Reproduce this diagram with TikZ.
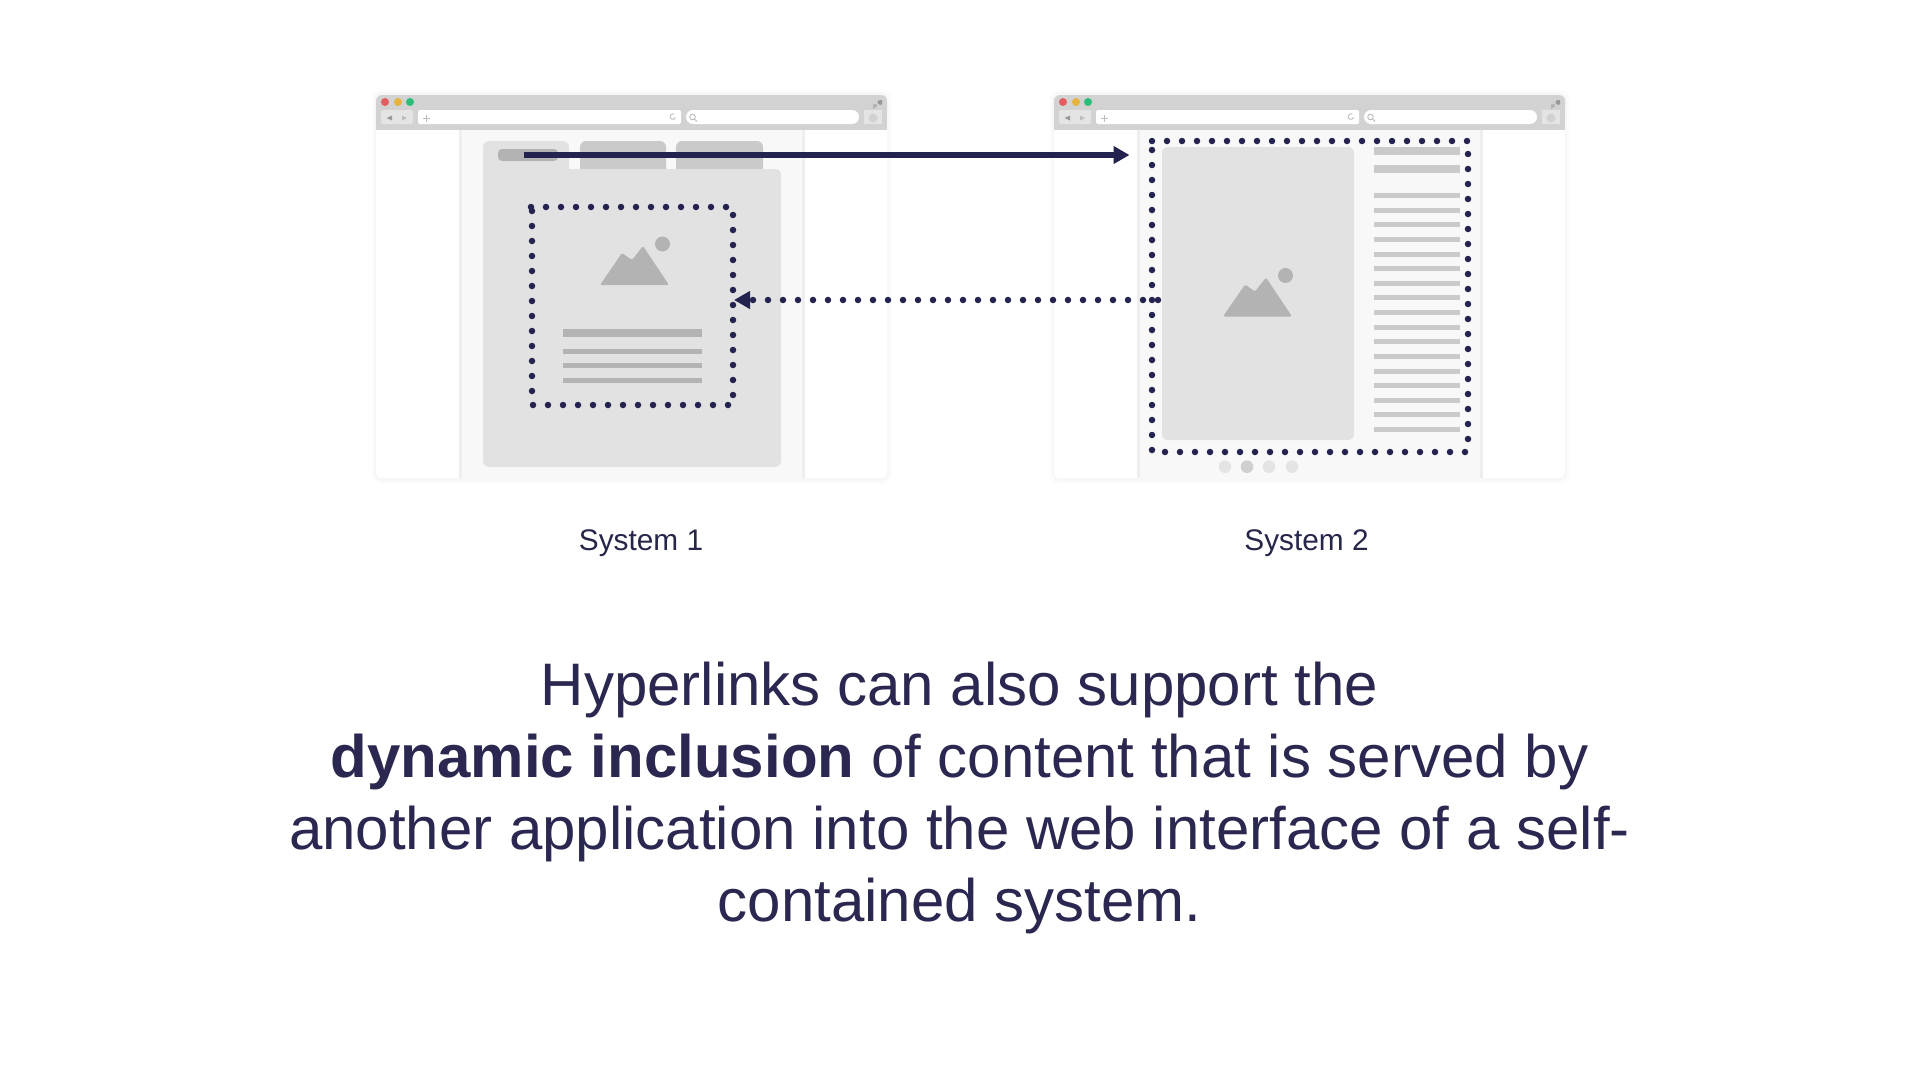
\documentclass[tikz,border=0pt]{standalone}
\usepackage{fontspec}
\setmainfont{Liberation Sans}
\usetikzlibrary{arrows.meta}
\definecolor{ink}{HTML}{2A2850}
\definecolor{capink}{HTML}{26264A}
\definecolor{arrowink}{HTML}{24224E}
\definecolor{haloA}{HTML}{FCFCFC}
\definecolor{haloB}{HTML}{F7F7F7}
\definecolor{chrome}{HTML}{D2D2D2}
\definecolor{btn}{HTML}{E4E4E4}
\definecolor{pagebg}{HTML}{F8F8F8}
\definecolor{divider}{HTML}{EEEEEE}
\definecolor{panel}{HTML}{E2E2E2}
\definecolor{tabdark}{HTML}{CACACA}
\definecolor{midgrey}{HTML}{B3B3B3}
\definecolor{iconline}{HTML}{BDBDBD}
\tikzset{
  dotline/.style={draw=arrowink,line width=6.5pt,line cap=round,dash pattern=on 0pt off 15pt},
  solidlink/.style={draw=arrowink,line width=6pt,-{Triangle[length=16pt,width=17pt]}},
  dotlink/.style={draw=arrowink,line width=6.5pt,line cap=round,dash pattern=on 0pt off 15pt,-{Triangle[length=16pt,width=17pt,line cap=butt]}},
  caption/.style={font=\fontsize{29.8}{34}\selectfont,text=capink,inner sep=0pt,anchor=center},
  thin icon/.style={draw=iconline,line width=0.9pt}
}
\newcommand{\browserwin}[1]{%
\begin{scope}[xshift=#1pt]
  \fill[haloA,rounded corners=9pt] (372,90) rectangle (892,484);
  \fill[haloB,rounded corners=8pt] (374,92) rectangle (889,481);
  \fill[white,rounded corners=6pt] (376,110) rectangle (887,478);
  \fill[chrome,rounded corners=6pt] (376,95) rectangle (887,120);
  \fill[chrome] (376,110) rectangle (887,130);
  \fill[pagebg] (459,130) rectangle (805,478);
  \fill[divider] (459,130) rectangle (462,478);
  \fill[divider] (802,130) rectangle (805,478);
  \fill[color={rgb,255:red,226;green,92;blue,96}] (385,102) circle[radius=4];
  \fill[color={rgb,255:red,228;green,180;blue,60}] (398,102) circle[radius=4];
  \fill[color={rgb,255:red,44;green,190;blue,120}] (410,102) circle[radius=4];
  \fill[btn,rounded corners=2pt] (381,110) rectangle (413,124);
  \fill[iconline!75!black!90] (386.5,118) -- (392,115.5) -- (392,120.5) -- cycle;
  \fill[iconline] (407,118) -- (402,115.5) -- (402,120.5) -- cycle;
  \fill[white,rounded corners=1.5pt] (418,110) rectangle (681,124);
  \draw[thin icon] (423,118) -- (430,118) (426.5,114.5) -- (426.5,121.5);
  \draw[thin icon] (675.5,117.5) arc[start angle=20,end angle=300,radius=2.8];
  \fill[white,rounded corners=7pt] (686,110) rectangle (859,124);
  \draw[thin icon] (692.5,117) circle[radius=2.8] (694.5,119) -- (697,121.5);
  \fill[btn] (864,110) rectangle (882,124);
  \fill[color=chrome] (873,118) circle[radius=4.5];
  \fill[midgrey] (873,109) -- (873,104.5) -- (876,104) -- (877.5,106) -- cycle;
  \fill[color=midgrey!85!black] (882,100) -- (882,104) -- (880,105) -- (877.5,103) -- (878,100.5) -- cycle;
\end{scope}}
\newcommand{\mountain}[2]{%
\begin{scope}[xshift=#1pt,yshift=-#2pt]
  \fill[midgrey,rounded corners=1.5pt] (600,285) -- (622,253) -- (632,260) -- (643,246) -- (669,285) -- cycle;
  \fill[midgrey] (662.5,244) circle[radius=7.5];
\end{scope}}
\begin{document}
\begin{tikzpicture}[x=1pt,y=-1pt]
\useasboundingbox (0,0) rectangle (1920,1080);
\fill[white] (0,0) rectangle (1920,1080);
\browserwin{0}
\browserwin{678}
% System 1 content
\fill[panel,rounded corners=6pt] (483,141) rectangle (569,180);
\fill[tabdark,rounded corners=6pt] (580,141) rectangle (666,180);
\fill[tabdark,rounded corners=6pt] (676,141) rectangle (763,180);
\fill[panel,rounded corners=6pt] (483,169) rectangle (781,467);
\fill[panel] (483,160) rectangle (569,175);
\fill[midgrey,rounded corners=4pt] (498,149) rectangle (558,161);
\mountain{0}{0}
\fill[midgrey] (563,329) rectangle (702,337);
\foreach \ly in {349,363,378} \fill[midgrey] (563,\ly) rectangle (702,\ly+5);
% System 2 content
\fill[panel,rounded corners=6pt] (1162,147) rectangle (1354,440);
\mountain{623}{31.5}
\fill[tabdark] (1374,147) rectangle (1460,155);
\fill[tabdark] (1374,165) rectangle (1460,173);
\foreach \k in {0,...,16} \fill[tabdark] (1374,193+\k*14.63) rectangle (1460,198+\k*14.63);
\fill[btn] (1225,466.7) circle[radius=6.3];
\fill[tabdark!90!white] (1247,466.7) circle[radius=6.3];
\fill[btn] (1269,466.7) circle[radius=6.3];
\fill[btn] (1292,466.7) circle[radius=6.3];
% dotted frames
\coordinate (aTL) at (531,207); \coordinate (aTR) at (728,207);
\coordinate (aRT) at (733,215); \coordinate (aRB) at (733,397);
\coordinate (aBR) at (728,405); \coordinate (aBL) at (532,405);
\coordinate (aLB) at (532,391); \coordinate (aLT) at (532,210);
\draw[dotline] (aTL) -- (aTR);
\draw[dotline] (aRT) -- (aRB);
\draw[dotline] (aBR) -- (aBL);
\draw[dotline] (aLB) -- (aLT);
\coordinate (bTL) at (1152,141); \coordinate (bTR) at (1469,141);
\coordinate (bRT) at (1468,154); \coordinate (bRB) at (1468,441);
\coordinate (bBR) at (1465,452); \coordinate (bBL) at (1164,452);
\coordinate (bLB) at (1152,450); \coordinate (bLT) at (1152,150);
\draw[dotline] (bTL) -- (bTR);
\draw[dotline] (bRT) -- (bRB);
\draw[dotline] (bBR) -- (bBL);
\draw[dotline] (bLB) -- (bLT);
% connectors
\coordinate (linkfrom) at (524,155);
\coordinate (linkto) at (1129.5,155);
\draw[solidlink] (linkfrom) -- (linkto);
\coordinate (incfrom) at (1158,300);
\coordinate (incto) at (734,300);
\draw[dotlink] (incfrom) -- (incto);
% texts
\node[caption] (sys1) at (641,543) {System 1};
\node[caption] (sys2) at (1306.5,543) {System 2};
\node[font=\fontsize{60}{72}\selectfont,text=ink,align=center,inner sep=0pt,anchor=center] (body) at (959.5,798)
 {Hyperlinks can also support the\\ \textbf{dynamic inclusion} of content that is served by\\ another application into the web interface of a self-\\ contained system.};
\end{tikzpicture}
\end{document}
